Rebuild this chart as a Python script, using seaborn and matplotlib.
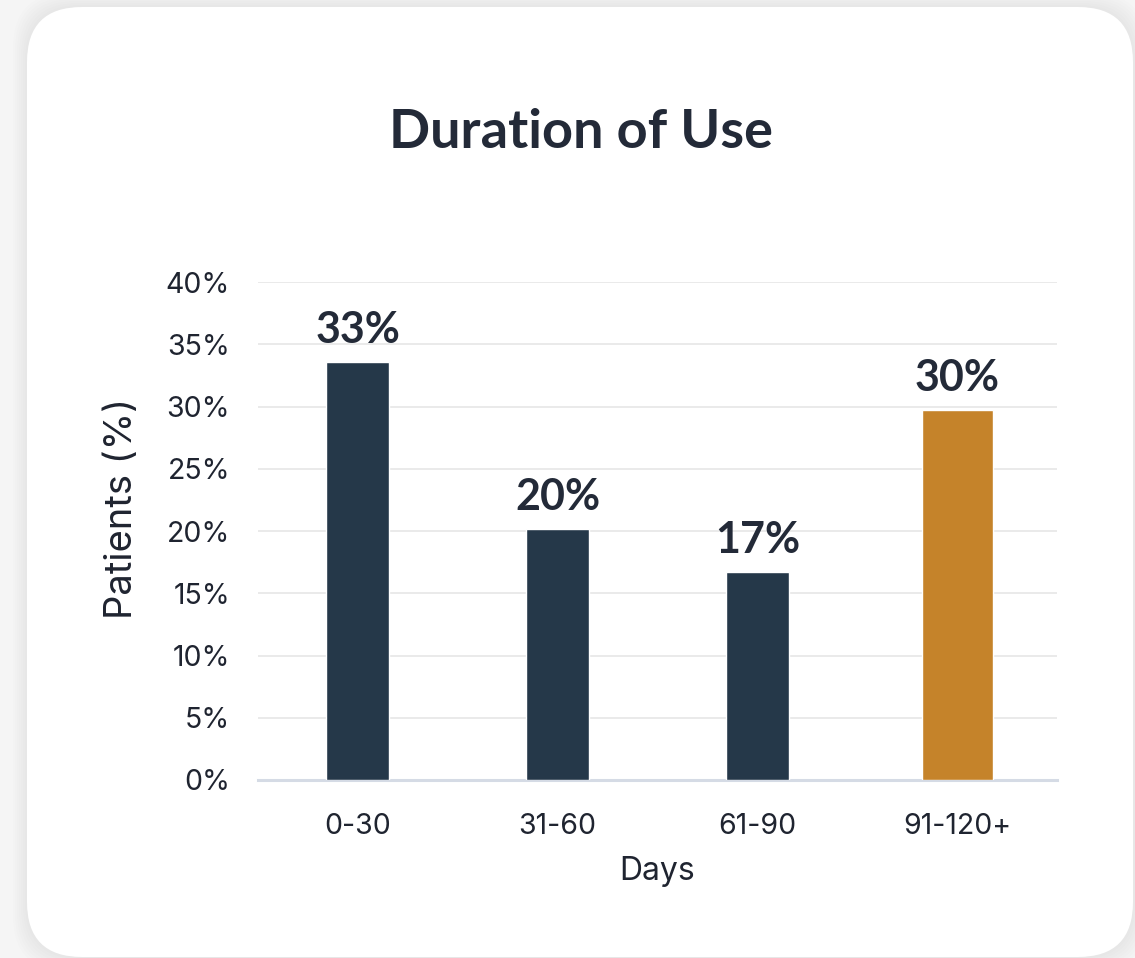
import matplotlib
matplotlib.use("Agg")
import matplotlib.pyplot as plt
import seaborn as sns
import pandas as pd
from matplotlib.patches import FancyBboxPatch

categories = ["0-30", "31-60", "61-90", "91-120+"]
values = [33.6, 20.2, 16.7, 29.7]
labels = ["33%", "20%", "17%", "30%"]
bar_colors = ["#253849", "#253849", "#253849", "#c5832a"]
yticks = [0, 5, 10, 15, 20, 25, 30, 35, 40]
ytick_labels = ["0%", "5%", "10%", "15%", "20%", "25%", "30%", "35%", "40%"]

sns.set_theme(style="white")
plt.rcParams['font.family'] = ['Inter', 'DejaVu Sans']

W, H = 1135, 958
fig = plt.figure(figsize=(W / 100, H / 100), dpi=100)
fig.patch.set_facecolor("#f5f5f5")

# background card with soft shadow
bg = fig.add_axes([0, 0, 1, 1])
bg.set_xlim(0, W)
bg.set_ylim(H, 0)
bg.axis("off")
for i in range(8):
    off = 14 - i * 2
    bg.add_patch(FancyBboxPatch((27 - off + 55, 7 - off + 55), 1106 + 2 * off - 110, 950 + 2 * off - 110,
                                boxstyle="round,pad=55", fc="#000000", ec="none", alpha=0.006, zorder=1))
bg.add_patch(FancyBboxPatch((27 + 55, 7 + 55), 1106 - 110, 950 - 110,
                            boxstyle="round,pad=55", fc="white", ec="none", zorder=2))

df = pd.DataFrame({"Days": categories, "Patients": values})

ax = fig.add_axes([258 / W, 1 - 780 / H, (1057 - 258) / W, (780 - 282) / H])
ax.set_facecolor("none")
sns.barplot(data=df, x="Days", y="Patients", hue="Days", palette=bar_colors,
            saturation=1, width=0.315, ax=ax, legend=False, zorder=3)

# last bar slightly wider as in reference
p = ax.patches[3]
cx = p.get_x() + p.get_width() / 2
p.set_width(0.355)
p.set_x(cx - 0.355 / 2)

ax.set_ylim(0, 40)
ax.set_xlim(-0.5, 3.5)
ax.set_yticks(yticks)
ax.set_yticklabels(ytick_labels)
ax.yaxis.grid(True, color="#e6e6e6", linewidth=1.2, zorder=0)
ax.set_axisbelow(True)
for s in ["top", "right", "left"]:
    ax.spines[s].set_visible(False)
ax.spines["bottom"].set_color("#d5dbe5")
ax.spines["bottom"].set_linewidth(2.2)
ax.tick_params(axis="both", length=0, labelsize=20.5, colors="#1f2430")
ax.tick_params(axis="x", pad=24)
ax.tick_params(axis="y", pad=20)

ax.set_xlabel("Days", fontsize=23, color="#1f2430", labelpad=11)
ax.set_ylabel("Patients (%)", fontsize=27.5, color="#1f2430")
ax.yaxis.set_label_coords(-0.148, 0.545)

for i, (v, lab) in enumerate(zip(values, labels)):
    ax.text(i, v + 0.95, lab, ha="center", va="bottom", fontsize=31,
            fontweight="bold", color="#232a38", family=["Lato", "DejaVu Sans"])

fig.text(581 / W, 1 - 133 / H, "Duration of Use", ha="center", va="center",
         fontsize=39, fontweight="bold", color="#232a38", family=["Lato", "DejaVu Sans"])

fig.savefig("out.png", dpi=100, facecolor=fig.get_facecolor())
